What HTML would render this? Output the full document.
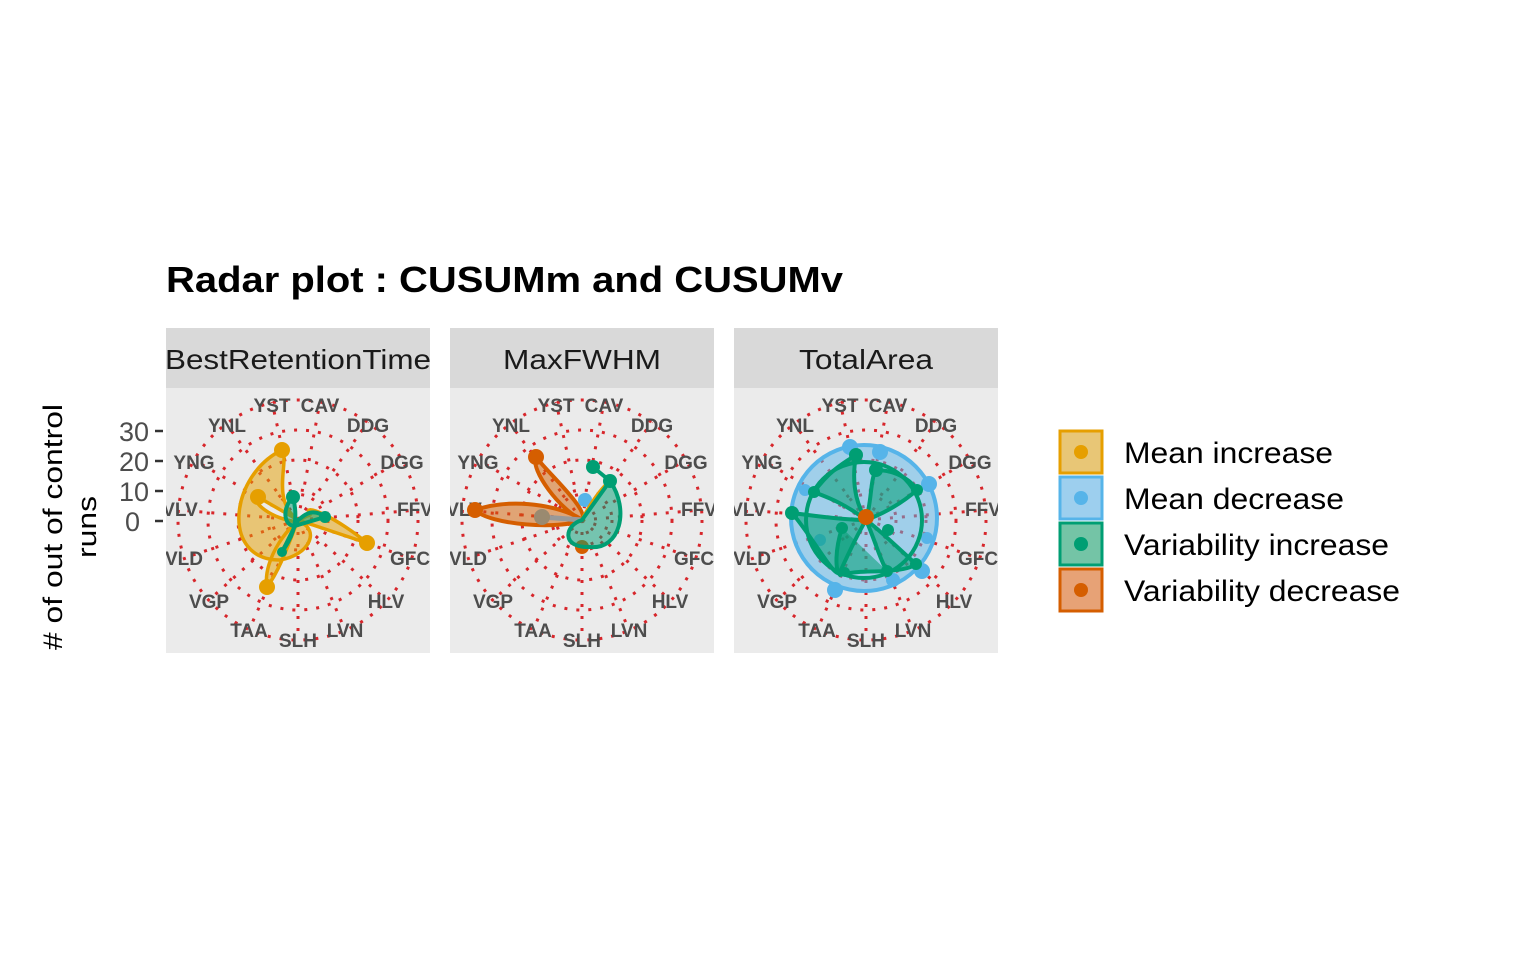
<!DOCTYPE html>
<html><head><meta charset="utf-8"><style>
html,body{margin:0;padding:0;background:#fff;}
svg{display:block;font-family:"Liberation Sans",Arial,sans-serif;}
</style></head><body>
<svg width="1536" height="960" viewBox="0 0 1536 960" xmlns="http://www.w3.org/2000/svg">
<defs>
<clipPath id="c1"><rect x="166" y="388" width="264" height="265"/></clipPath>
<clipPath id="c2"><rect x="450" y="388" width="264" height="265"/></clipPath>
<clipPath id="c3"><rect x="734" y="388" width="264" height="265"/></clipPath>
<g id="grid">
<rect x="-132" y="-132" width="264" height="265" fill="#ebebeb"/>
<g fill="none" stroke="#d7262b" stroke-width="3" stroke-dasharray="3 9">
<circle r="30"/><circle r="60"/><circle r="90"/><circle r="120"/>
<path d="M0 0L-26 -118M0 0L22 -118M0 0L70 -98M0 0L104 -60M0 0L120 -10M0 0L112 38M0 0L88 80M0 0L47 110M0 0L0 120M0 0L-49 110M0 0L-89 80M0 0L-114 38M0 0L-120 -10M0 0L-104 -60M0 0L-71 -95"/>
</g>
<g fill="#4d4d4d" font-size="19" font-weight="bold" text-anchor="middle">
<text x="-26" y="-108">YST</text><text x="22" y="-108">CAV</text>
<text x="70" y="-88">DDG</text><text x="104" y="-51">DGG</text>
<text x="117" y="-4">FFV</text><text x="112" y="45">GFC</text>
<text x="88" y="88">HLV</text><text x="47" y="117">LVN</text>
<text x="0" y="127">SLH</text><text x="-49" y="117">TAA</text>
<text x="-89" y="88">VGP</text><text x="-114" y="45">VLD</text>
<text x="-118" y="-4">VLV</text><text x="-104" y="-51">YNG</text>
<text x="-71" y="-88">YNL</text>
</g>
</g>
</defs>

<text x="166" y="292" font-size="36" font-weight="bold" fill="#000" textLength="677" lengthAdjust="spacingAndGlyphs">Radar plot : CUSUMm and CUSUMv</text>

<rect x="166" y="328" width="264" height="60" fill="#d9d9d9"/>
<rect x="450" y="328" width="264" height="60" fill="#d9d9d9"/>
<rect x="734" y="328" width="264" height="60" fill="#d9d9d9"/>
<g font-size="28" fill="#1a1a1a" text-anchor="middle">
<text x="298" y="369" textLength="266" lengthAdjust="spacingAndGlyphs">BestRetentionTime</text>
<text x="582" y="369" textLength="158" lengthAdjust="spacingAndGlyphs">MaxFWHM</text>
<text x="866" y="369" textLength="134" lengthAdjust="spacingAndGlyphs">TotalArea</text>
</g>

<g clip-path="url(#c1)">
<use href="#grid" transform="translate(298,520)"/>
<g stroke="#e69f00" stroke-width="3.5" fill="#e69f00" fill-opacity="0.5" stroke-linejoin="round">
<path d="M282 450 C230 475 220 560 280 560 C310 555 320 530 300 522 C270 520 250 500 258 497 L298 520 L367 543 C340 520 300 500 310 515 C290 520 262 560 267 587 C280 570 290 540 298 520 C270 500 290 460 282 450Z"/>
</g>
<g fill="#e69f00"><circle cx="282" cy="450" r="8"/><circle cx="258" cy="497" r="8"/><circle cx="367" cy="543" r="8"/><circle cx="267" cy="587" r="8"/></g>
<g stroke="#009e73" stroke-width="4" fill="#009e73" fill-opacity="0.5">
<path d="M293 497 C280 510 285 530 298 525 L325 517 C310 505 300 520 298 520 L282 552 C290 540 300 525 293 497Z"/>
</g>
<g fill="#009e73"><circle cx="293" cy="497" r="7"/><circle cx="325" cy="517" r="6"/><circle cx="282" cy="552" r="5"/></g>
</g>

<g clip-path="url(#c2)">
<use href="#grid" transform="translate(582,520)"/>
<g stroke="#d55e00" stroke-width="4" fill="#d55e00" fill-opacity="0.5">
<path d="M536 457 C545 470 590 510 582 520 C560 510 530 470 536 457Z"/>
<path d="M475 510 C520 495 570 510 582 520 C560 530 490 525 475 510Z"/>
</g>
<g fill="#d55e00"><circle cx="536" cy="457" r="8"/><circle cx="475" cy="510" r="8"/><circle cx="582" cy="547" r="7"/></g>
<path d="M542 517 L582 520" stroke="#999" stroke-width="5"/><circle cx="542" cy="517" r="8" fill="#9a8a70"/>
<circle cx="585" cy="500" r="7" fill="#56b4e9"/>
<path d="M582 520 C590 505 600 490 610 481" stroke="#e69f00" stroke-width="4" fill="#e69f00" fill-opacity="0.4"/>
<g stroke="#009e73" stroke-width="4" fill="#009e73" fill-opacity="0.5">
<path d="M610 481 C630 510 620 550 590 547 C560 548 565 525 582 520 Z"/>
<path d="M593 467 L610 481" fill="none"/>
</g>
<g fill="#009e73"><circle cx="593" cy="467" r="7"/><circle cx="610" cy="481" r="7"/></g>
</g>

<g clip-path="url(#c3)">
<use href="#grid" transform="translate(866,520)"/>
<circle cx="864" cy="518" r="73" fill="#56b4e9" fill-opacity="0.5" stroke="#56b4e9" stroke-width="4"/>
<g fill="#56b4e9"><circle cx="850" cy="447" r="8"/><circle cx="880" cy="452" r="8"/><circle cx="929" cy="484" r="8"/><circle cx="922" cy="571" r="8"/><circle cx="835" cy="590" r="8"/><circle cx="893" cy="580" r="7"/><circle cx="805" cy="490" r="6"/><circle cx="820" cy="540" r="6"/><circle cx="927" cy="538" r="6"/></g>
<g stroke="#009e73" stroke-width="4" fill="#009e73" fill-opacity="0.55" stroke-linejoin="round">
<path d="M856 455 C850 490 860 510 866 520 C840 500 820 495 814 492 C830 470 845 462 856 455Z"/>
<path d="M876 470 C900 470 915 485 917 490 C900 505 880 515 866 520 C872 500 870 480 876 470Z"/>
<path d="M792 513 C815 540 835 580 840 572 C850 550 860 530 866 520 C840 520 810 515 792 513Z"/>
<path d="M887 571 C900 570 912 568 916 564 C900 550 880 530 866 520 C875 540 880 560 887 571Z"/>
<path d="M842 528 C835 550 835 570 840 575 C860 570 880 572 887 571"/>
</g>
<circle cx="864" cy="520" r="58" fill="none" stroke="#009e73" stroke-width="4"/>
<g fill="#009e73"><circle cx="856" cy="455" r="7"/><circle cx="876" cy="470" r="7"/><circle cx="917" cy="490" r="6"/><circle cx="792" cy="513" r="7"/><circle cx="814" cy="492" r="6"/><circle cx="842" cy="528" r="6"/><circle cx="888" cy="530" r="6"/><circle cx="887" cy="571" r="6"/><circle cx="916" cy="564" r="6"/><circle cx="845" cy="572" r="5"/></g>
<circle cx="866" cy="517" r="8" fill="#d55e00"/>
</g>

<g font-size="27" fill="#4d4d4d" text-anchor="end">
<text x="149" y="441">30</text><text x="149" y="471">20</text><text x="149" y="501">10</text><text x="140" y="531">0</text>
</g>
<g stroke="#333" stroke-width="2.5"><path d="M155 431H163M155 461H163M155 491H163M155 521H163"/></g>
<text transform="translate(62,527) rotate(-90)" font-size="27" fill="#000" text-anchor="middle">
<tspan x="0" y="0" textLength="246" lengthAdjust="spacingAndGlyphs"># of out of control</tspan><tspan x="0" y="34" textLength="62" lengthAdjust="spacingAndGlyphs">runs</tspan></text>

<g stroke-width="3">
<rect x="1060" y="431" width="42" height="42" fill="#e8c676" stroke="#e69f00"/>
<rect x="1060" y="477" width="42" height="42" fill="#9dcfee" stroke="#56b4e9"/>
<rect x="1060" y="523" width="42" height="42" fill="#74c4a6" stroke="#009e73"/>
<rect x="1060" y="569" width="42" height="42" fill="#e7a276" stroke="#d55e00"/>
</g>
<circle cx="1081" cy="452" r="7" fill="#e69f00"/><circle cx="1081" cy="498" r="7" fill="#56b4e9"/>
<circle cx="1081" cy="544" r="7" fill="#009e73"/><circle cx="1081" cy="590" r="7" fill="#d55e00"/>
<g font-size="30" fill="#000">
<text x="1124" y="463" textLength="209" lengthAdjust="spacingAndGlyphs">Mean increase</text>
<text x="1124" y="509" textLength="220" lengthAdjust="spacingAndGlyphs">Mean decrease</text>
<text x="1124" y="555" textLength="265" lengthAdjust="spacingAndGlyphs">Variability increase</text>
<text x="1124" y="601" textLength="276" lengthAdjust="spacingAndGlyphs">Variability decrease</text>
</g>
</svg>
</body></html>
